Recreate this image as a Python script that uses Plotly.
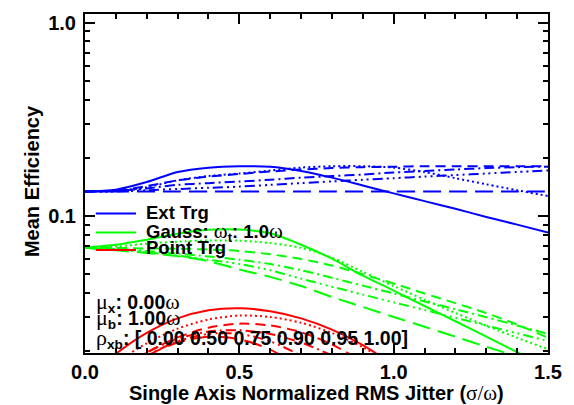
import plotly.graph_objects as go

# ---------------- data ----------------
jitter = [0.0, 0.1, 0.2, 0.3, 0.4, 0.5, 0.6, 0.7, 0.8, 0.9, 1.0, 1.1, 1.2, 1.3, 1.4, 1.5]
jitter_point = [0.0, 0.1, 0.2, 0.3, 0.4, 0.5, 0.6, 0.7, 0.8, 0.9, 1.0]

rho_labels = ["0.00", "0.50", "0.75", "0.90", "0.95", "1.00"]

ext_rho000 = [0.134, 0.137, 0.150, 0.169, 0.178, 0.181, 0.180, 0.171, 0.158, 0.144, 0.131, 0.1195, 0.109, 0.099, 0.0903, 0.0823]
ext_rho050 = [0.134, 0.135, 0.141, 0.153, 0.161, 0.166, 0.172, 0.178, 0.181, 0.181, 0.178, 0.169, 0.157, 0.146, 0.136, 0.127]
ext_rho075 = [0.134, 0.135, 0.143, 0.153, 0.160, 0.165, 0.170, 0.174, 0.177, 0.179, 0.180, 0.181, 0.181, 0.181, 0.181, 0.181]
ext_rho090 = [0.134, 0.135, 0.139, 0.145, 0.148, 0.151, 0.154, 0.158, 0.161, 0.164, 0.168, 0.171, 0.174, 0.177, 0.179, 0.180]
ext_rho095 = [0.134, 0.134, 0.136, 0.138, 0.140, 0.142, 0.145, 0.148, 0.151, 0.154, 0.157, 0.160, 0.163, 0.166, 0.169, 0.172]
ext_rho100 = [0.134, 0.134, 0.134, 0.134, 0.134, 0.134, 0.134, 0.134, 0.134, 0.134, 0.134, 0.134, 0.134, 0.134, 0.134, 0.134]

gauss_rho000 = [0.0685, 0.071, 0.0755, 0.081, 0.085, 0.0852, 0.0815, 0.0711, 0.0602, 0.0492, 0.0412, 0.0343, 0.0286, 0.0238, 0.0198, 0.0165]
gauss_rho050 = [0.0685, 0.0695, 0.072, 0.0738, 0.0748, 0.0746, 0.0725, 0.0685, 0.061, 0.0515, 0.0435, 0.037, 0.0316, 0.0271, 0.0235, 0.0205]
gauss_rho075 = [0.0685, 0.0685, 0.068, 0.0678, 0.0672, 0.066, 0.0635, 0.060, 0.0555, 0.050, 0.0448, 0.0398, 0.0355, 0.0315, 0.0275, 0.0235]
gauss_rho090 = [0.0685, 0.0675, 0.066, 0.064, 0.0618, 0.0595, 0.0565, 0.0525, 0.048, 0.0437, 0.0398, 0.0362, 0.033, 0.030, 0.0272, 0.0246]
gauss_rho095 = [0.0685, 0.067, 0.065, 0.0625, 0.0595, 0.0565, 0.0525, 0.0475, 0.0431, 0.0393, 0.0358, 0.0327, 0.0298, 0.0272, 0.0248, 0.0226]
gauss_rho100 = [0.0685, 0.0665, 0.0645, 0.062, 0.0585, 0.053, 0.0485, 0.0435, 0.0382, 0.0339, 0.0301, 0.0268, 0.0238, 0.0211, 0.0188, 0.0167]

point_rho000 = [0.0141, 0.0194, 0.0249, 0.0296, 0.0326, 0.0334, 0.0322, 0.0296, 0.0259, 0.0215, 0.0170]
point_rho050 = [0.0128, 0.0174, 0.0220, 0.0262, 0.0292, 0.0306, 0.0301, 0.0281, 0.0249, 0.0210, 0.0167]
point_rho075 = [0.0112, 0.0154, 0.0197, 0.0236, 0.0265, 0.0278, 0.0272, 0.0251, 0.0217, 0.0176, 0.0134]
point_rho090 = [0.0114, 0.0155, 0.0197, 0.0232, 0.0253, 0.0257, 0.0246, 0.0222, 0.0190, 0.0154, 0.0118]
point_rho095 = [0.0102, 0.0145, 0.0189, 0.0225, 0.0246, 0.0246, 0.0225, 0.0189, 0.0145, 0.0102, 0.0068]
point_rho100 = [0.0103, 0.0147, 0.0189, 0.0222, 0.0238, 0.0231, 0.0204, 0.0164, 0.0120, 0.0080, 0.0050]

x_ticks = [0.0, 0.5, 1.0, 1.5]
x_ticktext = ["0.0", "0.5", "1.0", "1.5"]
x_minor = [0.1, 0.2, 0.3, 0.4, 0.6, 0.7, 0.8, 0.9, 1.1, 1.2, 1.3, 1.4]
y_ticks = [0.1, 1.0]
y_ticktext = ["0.1", "1.0"]
y_minor = [0.02, 0.03, 0.04, 0.05, 0.06, 0.07, 0.08, 0.09, 0.2, 0.3, 0.4, 0.5, 0.6, 0.7, 0.8, 0.9]

# ---------------- styles ----------------
BLUE, GREEN, RED = "#0000FF", "#00FF00", "#FF0000"
dashes = ["solid", "2px,3px", "10px,6px", "10px,4px,2px,4px",
          "10px,4px,2px,4px,2px,4px,2px,4px", "18px,8px"]

FONT = "Liberation Sans"
SERIF = "Liberation Serif"


def thin(s, size=None):
    sz = "" if size is None else "font-size:%dpx;" % size
    return '<span style="font-weight:normal;%sfont-family:%s">%s</span>' % (sz, SERIF, s)


fig = go.Figure()

groups = [
    (jitter, [ext_rho000, ext_rho050, ext_rho075, ext_rho090, ext_rho095, ext_rho100], BLUE),
    (jitter, [gauss_rho000, gauss_rho050, gauss_rho075, gauss_rho090, gauss_rho095, gauss_rho100], GREEN),
    (jitter_point, [point_rho000, point_rho050, point_rho075, point_rho090, point_rho095, point_rho100], RED),
]
for xs, series, col in groups:
    for ys, d in zip(series, dashes):
        fig.add_trace(go.Scatter(x=xs, y=ys, mode="lines",
                                 line=dict(color=col, width=2, dash=d, shape="spline", smoothing=0.8),
                                 showlegend=False, hoverinfo="skip"))

# ---------------- layout ----------------
L, R, T, B = 85, 17, 12, 52
W, H = 574, 405
pw, ph = W - L - R, H - T - B


def px2paper(px, py):
    return (px - L) / pw, (H - B - py) / ph


axis_common = dict(showline=True, linewidth=2, linecolor="black", mirror="ticks",
                   ticks="inside", tickwidth=1.5, tickcolor="black", ticklen=10,
                   showgrid=False, zeroline=False,
                   tickfont=dict(family=FONT, size=20, color="black", weight="bold"))

fig.update_layout(
    width=W, height=H,
    margin=dict(l=L, r=R, t=T, b=B, pad=0),
    paper_bgcolor="white", plot_bgcolor="white",
    xaxis=dict(range=[0, 1.5], tickmode="array", tickvals=x_ticks, ticktext=x_ticktext,
               minor=dict(tickmode="array", tickvals=x_minor, ticks="inside", ticklen=5,
                          tickwidth=1.5, tickcolor="black"),
               ticklabelstandoff=0, **axis_common),
    yaxis=dict(type="log", range=[-1.7077, 0.0445], tickmode="array", tickvals=y_ticks,
               ticktext=y_ticktext,
               minor=dict(tickmode="array", tickvals=y_minor, ticks="inside", ticklen=5,
                          tickwidth=1.5, tickcolor="black"),
               ticklabelstandoff=3, **axis_common),
)

annots = []
# axis titles
ax, ay = px2paper(322, 393)
annots.append(dict(text="Single Axis Normalized RMS Jitter (" + thin("σ/ω", 21) + ")",
                   x=0.5, y=ay, xref="paper", yref="paper", xanchor="center", yanchor="middle",
                   showarrow=False, font=dict(family=FONT, size=20, color="black", weight="bold")))
ax, ay = px2paper(31, 180)
annots.append(dict(text="Mean Efficiency", textangle=-90,
                   x=ax, y=ay, xref="paper", yref="paper", xanchor="center", yanchor="middle",
                   showarrow=False, font=dict(family=FONT, size=20, color="black", weight="bold")))

# legend
legend_items = [("Ext Trg", BLUE, 212.7, 212),
                ("Gauss: " + thin("ω", 21) + "<sub>t</sub>: 1.0" + thin("ω", 21), GREEN, 231.7, 231),
                ("Point Trg", RED, 249.3, 247)]
shapes = []
for txt, col, ly, ty in legend_items:
    x0, y0 = px2paper(96, ly)
    x1, _ = px2paper(137, ly)
    shapes.append(dict(type="line", xref="paper", yref="paper", x0=x0, x1=x1, y0=y0, y1=y0,
                       line=dict(color=col, width=2)))
    tx, tyy = px2paper(145, ty)
    annots.append(dict(text=txt, x=tx, y=tyy, xref="paper", yref="paper",
                       xanchor="left", yanchor="middle", showarrow=False,
                       font=dict(family=FONT, size=18.5, color="black", weight="bold")))

info_lines = [
    (thin("μ", 22) + "<sub>x</sub>: 0.00" + thin("ω", 22), 301.7),
    (thin("μ", 22) + "<sub>b</sub>: 1.00" + thin("ω", 22), 318.5),
    (thin("ρ", 22) + "<sub>xb</sub>: [ " + " ".join(rho_labels) + "]", 338),
]
for txt, ty in info_lines:
    tx, tyy = px2paper(94, ty)
    annots.append(dict(text=txt, x=tx, y=tyy, xref="paper", yref="paper",
                       xanchor="left", yanchor="middle", showarrow=False,
                       font=dict(family=FONT, size=19.5, color="black", weight="bold")))

fig.update_layout(annotations=annots, shapes=shapes)

fig.write_html("out.html")
